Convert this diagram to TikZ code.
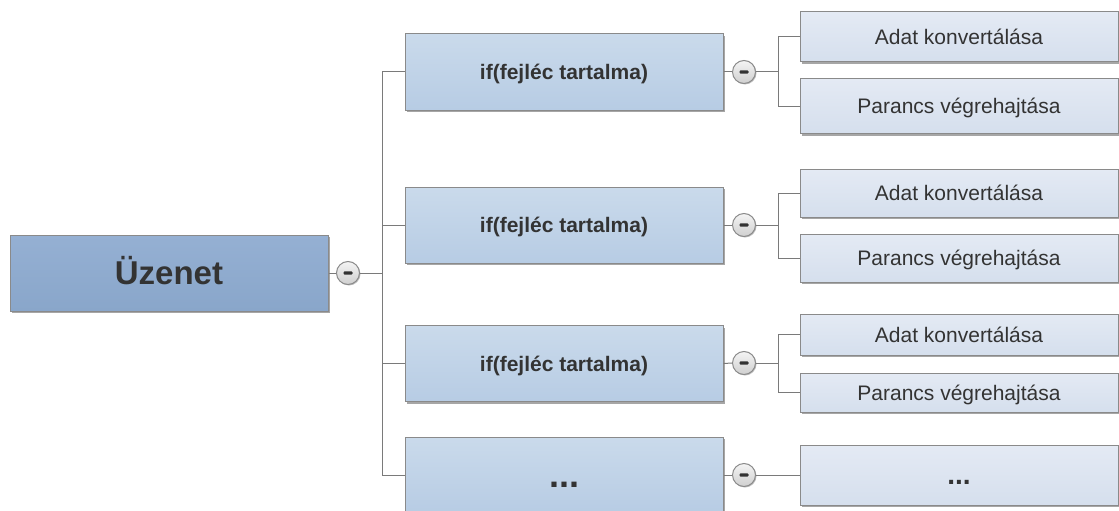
\documentclass[tikz,border=0pt]{standalone}
\usepackage{fontspec}
\setmainfont{Liberation Sans}
\usetikzlibrary{shadows}
\definecolor{rootT}{HTML}{95B0D3}
\definecolor{rootB}{HTML}{89A6CA}
\definecolor{lvT}{HTML}{CADAEB}
\definecolor{lvB}{HTML}{B7CCE4}
\definecolor{subT}{HTML}{E4EAF4}
\definecolor{subB}{HTML}{D5DFED}
\definecolor{boxline}{HTML}{8A8A8A}
\definecolor{conn}{HTML}{7A7A7A}
\definecolor{txt}{HTML}{333333}
\definecolor{btnT}{HTML}{F4F4F4}
\definecolor{btnB}{HTML}{CFCFCF}
\begin{document}
\begin{tikzpicture}[x=1pt,y=-1pt,
  box/.style={rectangle, draw=boxline, line width=1pt, inner sep=0pt, text=txt,
    minimum width=318pt,
    drop shadow={shadow xshift=2pt, shadow yshift=-2pt, opacity=0.35, fill=black}},
  rootbox/.style={box, top color=rootT, bottom color=rootB, minimum height=76pt,
    font=\fontsize{33}{38}\selectfont\bfseries, text height=23.6pt, text depth=0pt},
  lvbox/.style={box, top color=lvT, bottom color=lvB, minimum height=76pt,
    font=\fontsize{21}{25}\selectfont\bfseries, text height=15pt, text depth=0pt},
  subbox/.style={box, top color=subT, bottom color=subB,
    font=\fontsize{21}{25}\selectfont, text height=15pt, text depth=0pt},
  btn/.style={circle, draw=boxline, line width=1pt, inner sep=0pt, minimum size=23pt,
    top color=btnT, bottom color=btnB,
    drop shadow={shadow xshift=1pt, shadow yshift=-1pt, opacity=0.25, fill=black},
    path picture={\fill[txt, rounded corners=1pt]
      ([xshift=-4.5pt,yshift=-1.6pt]path picture bounding box.center) rectangle ++(9pt,3.2pt);}},
  link/.style={draw=conn, line width=1pt}
]
\useasboundingbox (0,0) rectangle (1119,511);

% root
\node[rootbox] (root) at (169,273) {Üzenet};
\node[btn] (c0) at (348,273) {};
\coordinate (t0) at (382,273);

% level 1
\node[lvbox] (b1) at (564,72) {if(fejléc tartalma)};
\node[lvbox] (b2) at (564,225) {if(fejléc tartalma)};
\node[lvbox] (b3) at (564,363.5) {if(fejléc tartalma)};
\node[lvbox, font=\fontsize{36}{40}\selectfont\bfseries, text height=24pt] (b4) at (564,475) {...};

\node[btn] (c1) at (744,72) {};
\node[btn] (c2) at (744,225) {};
\node[btn] (c3) at (744,363) {};
\node[btn] (c4) at (744,475) {};

\coordinate (s1) at (778,72);
\coordinate (s2) at (778,225);
\coordinate (s3) at (778,363);

% level 2
\node[subbox, minimum height=50pt] (a1) at (959,37) {Adat konvertálása};
\node[subbox, minimum height=55pt] (p1) at (959,106) {Parancs végrehajtása};
\node[subbox, minimum height=48pt] (a2) at (959,193) {Adat konvertálása};
\node[subbox, minimum height=48pt] (p2) at (959,258) {Parancs végrehajtása};
\node[subbox, minimum height=41pt] (a3) at (959,334.5) {Adat konvertálása};
\node[subbox, minimum height=39pt] (p3) at (959,392.5) {Parancs végrehajtása};
\node[subbox, minimum height=60pt, font=\fontsize{28}{32}\selectfont\bfseries, text height=18pt] (sub4) at (959,475) {...};

% connectors
\draw[link] (root.east) -- (c0.west);
\draw[link] (c0.east) -- (t0);
\draw[link] (b1.west) -| (t0);
\draw[link] (b2.west) -| (t0);
\draw[link] (b3.west) -| (t0);
\draw[link] (b4.west) -| (t0);

\draw[link] (b1.east) -- (c1.west);
\draw[link] (b2.east) -- (c2.west);
\draw[link] (b3.east) -- (c3.west);
\draw[link] (b4.east) -- (c4.west);

\draw[link] (c1.east) -- (s1);
\draw[link] (a1.west) -| (s1);
\draw[link] (p1.west) -| (s1);
\draw[link] (c2.east) -- (s2);
\draw[link] (a2.west) -| (s2);
\draw[link] (p2.west) -| (s2);
\draw[link] (c3.east) -- (s3);
\draw[link] (a3.west) -| (s3);
\draw[link] (p3.west) -| (s3);
\draw[link] (c4.east) -- (sub4.west);
\end{tikzpicture}
\end{document}
